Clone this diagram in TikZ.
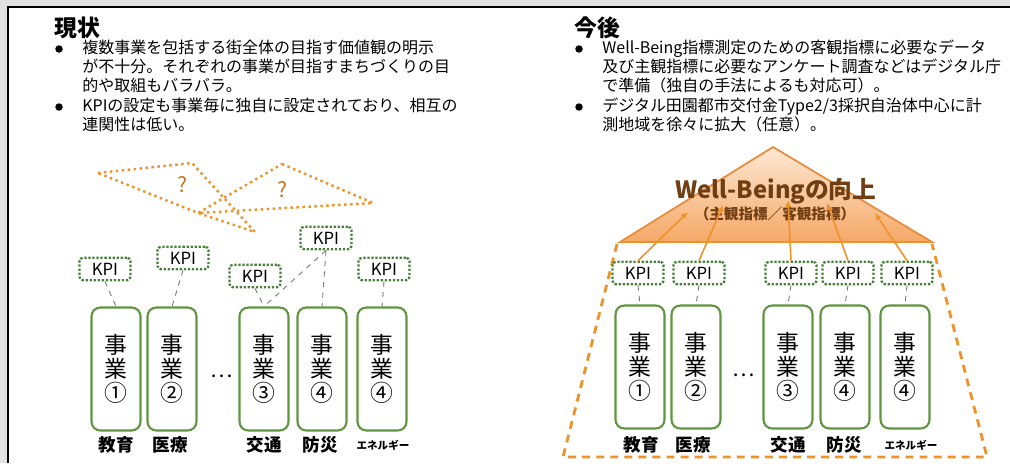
\documentclass[tikz,border=0pt]{standalone}
\usepackage{fontspec}
\setmainfont{Noto Sans CJK JP}
\usetikzlibrary{arrows.meta}
\definecolor{boxgreen}{RGB}{96,150,66}
\definecolor{kpigreen}{RGB}{72,128,58}
\definecolor{wborange}{RGB}{238,146,42}
\definecolor{wbedge}{RGB}{232,140,60}
\definecolor{wbtop}{RGB}{253,232,212}
\definecolor{wbbot}{RGB}{245,168,102}
\definecolor{wbbrown}{RGB}{112,62,18}
\definecolor{qbrown}{RGB}{196,118,36}
\definecolor{linkgray}{RGB}{118,118,118}
\definecolor{framegray}{RGB}{226,226,226}
\tikzset{
  kpi/.style={draw=kpigreen, densely dotted, line width=1.3pt, rounded corners=2pt, minimum width=1.02cm, minimum height=0.45cm, inner sep=0pt, font=\fontsize{9.5}{10}\selectfont},
  jigyo/.style={draw=boxgreen, line width=1.2pt, rounded corners=5pt, minimum width=0.98cm, minimum height=2.46cm, align=center, inner sep=0pt, font=\fontsize{13}{13.8}\selectfont},
  bunya/.style={inner sep=0pt, font=\fontsize{10}{10}\selectfont\bfseries},
  link/.style={draw=linkgray, dashed, line width=0.5pt},
  bubble/.style={draw=wborange, dotted, line width=1.4pt, line join=round},
  wbarrow/.style={draw=wborange, line width=0.9pt, -{Latex[length=4pt,width=3.5pt]}},
  midashi/.style={anchor=west, inner sep=0pt, font=\fontsize{13}{13}\selectfont\bfseries},
  honbun/.style={anchor=north west, inner sep=0pt, align=left, font=\fontsize{9.1}{10.8}\selectfont},
  pochi/.style={circle, fill=black, inner sep=0pt, minimum size=0.15cm}
}
\begin{document}
\begin{tikzpicture}[x=0.02cm, y=-0.02cm]
\useasboundingbox (0,0) rectangle (1010,463);
\fill[framegray] (0,0) rectangle (1010,463);
\fill[white] (8,7) rectangle (1010,463);
\draw[line width=1.5pt] (8,463) -- (8,7) -- (1010,7);

\node[midashi] (genjo) at (54,28) {現状};
\node[pochi] (p1) at (59,49) {};
\node[honbun] (g1) at (82,40) {複数事業を包括する街全体の目指す価値観の明示\\が不十分。それぞれの事業が目指すまちづくりの目\\的や取組もバラバラ。};
\node[pochi] (p2) at (59,107) {};
\node[honbun] (g2) at (82,98) {KPIの設定も事業毎に独自に設定されており、相互の\\連関性は低い。};

\node[midashi] (kongo) at (574,28) {今後};
\node[pochi] (p3) at (579,49) {};
\node[honbun] (k1) at (602,40) {Well-Being指標測定のための客観指標に必要なデータ\\及び主観指標に必要なアンケート調査などはデジタル庁\\で準備（独自の手法によるも対応可）。};
\node[pochi] (p4) at (579,107) {};
\node[honbun] (k2) at (602,98) {デジタル田園都市交付金Type2/3採択自治体中心に計\\測地域を徐々に拡大（任意）。};

\draw[bubble] (98,173) -- (192,163) -- (255,232) -- (198,213) -- cycle;
\draw[bubble] (282,164) -- (373,203) -- (198,213) -- cycle;
\node[text=qbrown, font=\fontsize{12}{12}\selectfont] (q1) at (182,185) {?};
\node[text=qbrown, font=\fontsize{12}{12}\selectfont] (q2) at (282,190) {?};

\foreach \i/\x/\y in {1/105/269, 2/183/258, 3/255/276, 4/326/238, 5/384/269}
  \node[kpi] (kpiL\i) at (\x,\y) {KPI};
\foreach \i/\x/\nr/\lx/\bun in {1/116/①/116/教育, 2/172/②/170/医療, 3/264/③/264/交通, 4/322/④/320/防災, 5/382/④/383/{\fontsize{6}{6}\selectfont エネルギー}}
{
  \node[jigyo] (jgL\i) at (\x,369) {事\\業\\\nr};
  \node[bunya] (bnL\i) at (\lx,445) {\bun};
}
\node[font=\fontsize{12}{12}\selectfont] (tenL) at (222,376) {…};
\foreach \a/\b in {1/1, 2/2, 3/3, 4/3, 4/4, 5/5}
  \draw[link] (kpiL\a.south) -- (jgL\b.north);

\draw[wborange, dashed, dash pattern=on 4.5pt off 3.5pt, line width=1.6pt] (617,244) -- (563,457) -- (987,457) -- (932,244);
\shadedraw[top color=wbtop, bottom color=wbbot, draw=wbedge, line width=1pt] (773,147) -- (932,242) -- (620,242) -- cycle;
\draw[wborange, line width=1.6pt] (620,242) -- (932,242);
\node[text=wbbrown, inner sep=0pt, font=\fontsize{13.5}{13.5}\selectfont\bfseries] (wb) at (776,191) {Well-Beingの向上};
\node[text=wbbrown, inner sep=0pt, font=\fontsize{8.3}{8.3}\selectfont\bfseries] (wbsub) at (775,214) {（主観指標／客観指標）};

\foreach \i/\x in {1/638, 2/699, 3/791, 4/848, 5/907}
  \node[kpi] (kpiR\i) at (\x,273) {KPI};
\foreach \i/\x/\nr/\lx/\bun in {1/640/①/641/教育, 2/696/②/693/医療, 3/788/③/788/交通, 4/845/④/844/防災, 5/905/④/911/{\fontsize{6}{6}\selectfont エネルギー}}
{
  \node[jigyo] (jgR\i) at (\x,367) {事\\業\\\nr};
  \node[bunya] (bnR\i) at (\lx,445) {\bun};
  \draw[link] (kpiR\i.south) -- (jgR\i.north);
}
\node[font=\fontsize{12}{12}\selectfont] (tenR) at (744,375) {…};

\coordinate (t1) at (688,212);
\coordinate (t2) at (723,205);
\coordinate (t3) at (788,200);
\coordinate (t4) at (827,203);
\coordinate (t5) at (875,213);
\foreach \i in {1,...,5}
  \draw[wbarrow] (kpiR\i.north) -- (t\i);
\end{tikzpicture}
\end{document}
